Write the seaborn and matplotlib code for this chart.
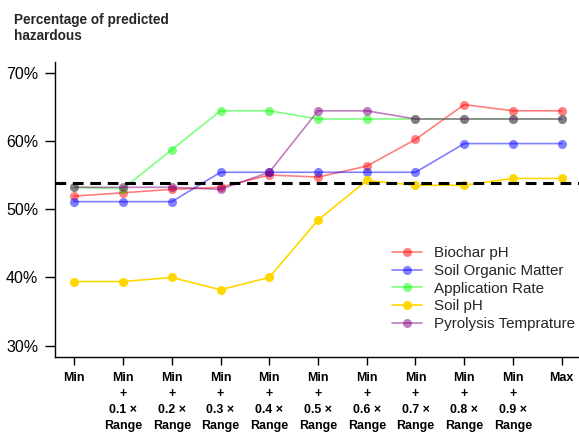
import matplotlib
matplotlib.use("Agg")
import matplotlib.pyplot as plt
import seaborn as sns
import pandas as pd
from matplotlib.ticker import FuncFormatter

tick_labels = ["Min"] + [f"Min\n+\n0.{i} ×\nRange" for i in range(1, 10)] + ["Max"]
positions = list(range(11))

biochar_ph = [51.9, 52.4, 52.9, 53.2, 55.0, 54.7, 56.3, 60.2, 65.3, 64.4, 64.4]
soil_om = [51.1, 51.1, 51.1, 55.4, 55.4, 55.4, 55.4, 55.4, 59.6, 59.6, 59.6]
app_rate = [53.2, 53.0, 58.7, 64.4, 64.4, 63.2, 63.2, 63.2, 63.2, 63.2, 63.2]
soil_ph = [39.4, 39.4, 40.0, 38.2, 40.0, 48.4, 54.2, 53.5, 53.5, 54.5, 54.5]
pyro_temp = [53.2, 53.2, 53.2, 52.9, 55.4, 64.4, 64.4, 63.2, 63.2, 63.2, 63.2]
threshold = 53.9

series = [
    ("Biochar pH", biochar_ph, "#ff0000", 0.5),
    ("Soil Organic Matter", soil_om, "#0000ff", 0.5),
    ("Application Rate", app_rate, "#00ff00", 0.5),
    ("Soil pH", soil_ph, "#ffd700", 1.0),
    ("Pyrolysis Temprature", pyro_temp, "#800080", 0.5),
]

sns.set_style("ticks")
plt.rcParams["font.family"] = ["Liberation Sans", "DejaVu Sans"]

fig = plt.figure(figsize=(5.79, 4.34), dpi=100)
ax = fig.add_axes([55 / 579, 77.3 / 434, 524 / 579, 294.4 / 434])

for name, vals, col, a in series:
    df = pd.DataFrame({"x": positions, "y": vals})
    sns.lineplot(data=df, x="x", y="y", ax=ax, color=col, alpha=a, marker="o",
                 markersize=6.5, markeredgewidth=0, linewidth=1.2, label=name)

ax.axhline(threshold, color="black", linestyle=(0, (3.5, 2.2)), linewidth=2.2, zorder=5)

ax.set_xlim(-0.396, 10.355)
ax.set_ylim(28.4, 71.5)
ax.set_yticks([30, 40, 50, 60, 70])
ax.yaxis.set_major_formatter(FuncFormatter(lambda v, p: f"{v:.0f}%"))
ax.set_xticks(positions)
ax.set_xticklabels(tick_labels, fontweight="bold", fontsize=8.9, linespacing=1.45, va="top")
ax.tick_params(axis="y", labelsize=11.5, length=7, width=1, pad=5, colors="black")
ax.tick_params(axis="x", length=6, width=1, pad=5, colors="black")
ax.set_xlabel("")
ax.set_ylabel("")
for s in ["top", "right"]:
    ax.spines[s].set_visible(False)
for s in ["left", "bottom"]:
    ax.spines[s].set_color("black")
    ax.spines[s].set_linewidth(1)

leg = ax.legend(loc="upper left", bbox_to_anchor=((386 - 55) / 524, 1 - (240 - 62.3) / 294.4),
                bbox_transform=ax.transAxes, frameon=False, fontsize=10.9,
                handlelength=2.0, handletextpad=0.8, labelspacing=0.25, borderaxespad=0)

fig.text(14 / 579, 1 - 13 / 434, "Percentage of predicted\nhazardous", ha="left", va="top",
         fontweight="bold", fontsize=9.8, linespacing=1.2)

fig.savefig("out.png", dpi=100)
